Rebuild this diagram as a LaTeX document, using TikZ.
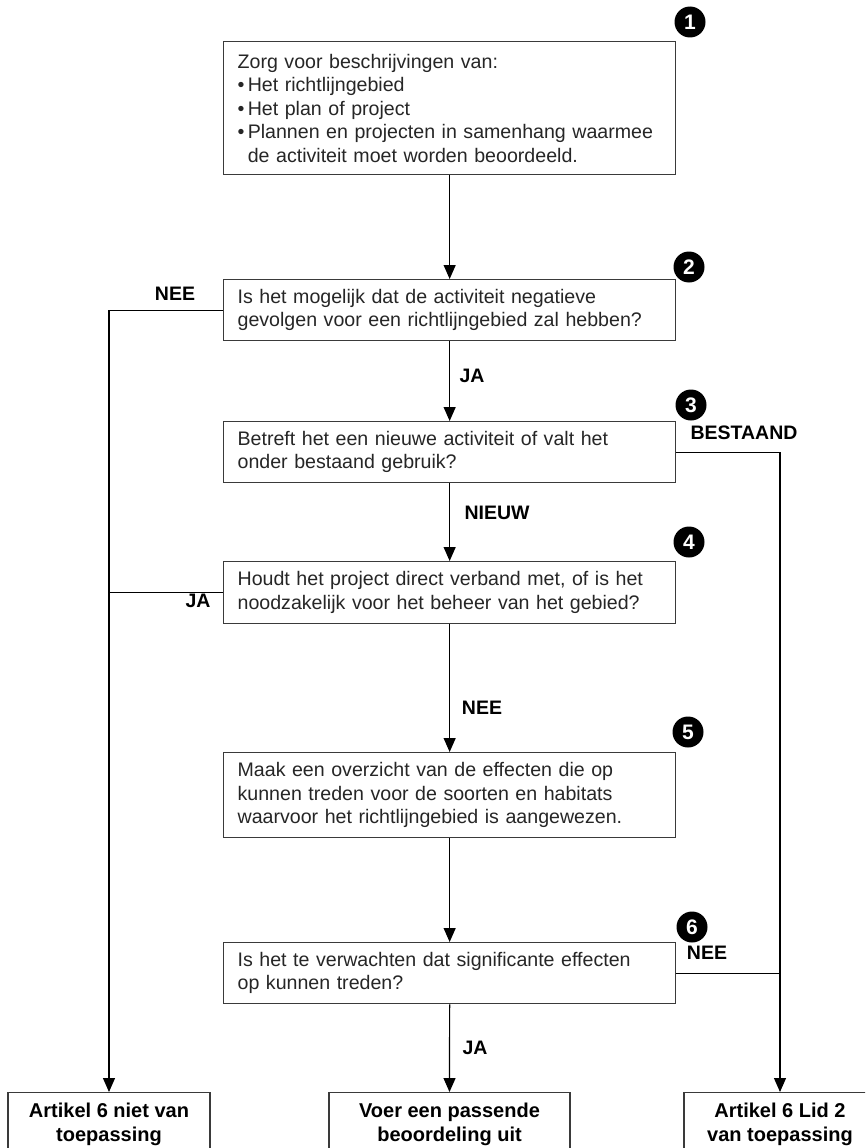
\documentclass[tikz,border=0pt]{standalone}
\usepackage{fontspec}
\setmainfont{Liberation Sans}
\usetikzlibrary{arrows.meta}
\definecolor{boxline}{HTML}{3A3A3A}
\definecolor{bodytext}{HTML}{262626}
\tikzset{
  qbox/.style={draw=boxline, line width=1.3pt, rectangle, anchor=north west,
    minimum width=452pt, text width=424pt, inner xsep=14pt, inner ysep=3pt,
    align=left, text=bodytext, font=\fontsize{19.6}{23.5}\selectfont},
  endbox/.style={draw=boxline, line width=1.3pt, rectangle, anchor=north,
    minimum height=64pt, inner sep=2pt, align=center,
    font=\fontsize{20}{24}\selectfont\bfseries},
  marker/.style={circle, fill=black, text=white, minimum size=31pt, inner sep=0pt,
    font=\fontsize{21}{21}\selectfont\bfseries},
  lbl/.style={font=\fontsize{19.5}{20}\selectfont\bfseries, inner sep=0pt},
  conn/.style={line width=1.2pt, draw=black},
  arr/.style={conn, -{Triangle[length=14pt,width=12pt]}}
}
\begin{document}
\begin{tikzpicture}[x=1pt,y=-1pt]
\useasboundingbox (0,0) rectangle (865,1148);
\clip (0,0) rectangle (865,1148);
\fill[white] (0,0) rectangle (865,1148);

% boxes
\node[qbox, minimum height=133pt] (b1) at (223,41)
  {Zorg voor beschrijvingen van:\\
   •\,Het richtlijngebied\\
   •\,Het plan of project\\
   •\,Plannen en projecten in samenhang waarmee\\
   \phantom{•\,}de activiteit moet worden beoordeeld.};
\node[qbox, minimum height=61pt] (b2) at (223,279)
  {Is het mogelijk dat de activiteit negatieve\\gevolgen voor een richtlijngebied zal hebben?};
\node[qbox, minimum height=61pt] (b3) at (223,421)
  {Betreft het een nieuwe activiteit of valt het\\onder bestaand gebruik?};
\node[qbox, minimum height=62pt] (b4) at (223,561)
  {Houdt het project direct verband met, of is het\\noodzakelijk voor het beheer van het gebied?};
\node[qbox, minimum height=85pt] (b5) at (223,752)
  {Maak een overzicht van de effecten die op\\kunnen treden voor de soorten en habitats\\waarvoor het richtlijngebied is aangewezen.};
\node[qbox, minimum height=61pt] (b6) at (223,942)
  {Is het te verwachten dat significante effecten\\op kunnen treden?};

\node[endbox, minimum width=202pt] (bl) at (109,1092) {Artikel 6 niet van\\toepassing};
\node[endbox, minimum width=241pt] (bm) at (449.5,1092) {Voer een passende\\beoordeling uit};
\node[endbox, minimum width=192pt] (br) at (780,1092) {Artikel 6 Lid 2\\van toepassing};

% markers
\node[marker] (m1) at (690,22) {1};
\node[marker] (m2) at (689,267) {2};
\node[marker] (m3) at (691,405) {3};
\node[marker] (m4) at (689,542) {4};
\node[marker] (m5) at (688,732) {5};
\node[marker] (m6) at (692,927) {6};

% connectors
\draw[arr] (b1.south) -- (b2.north);
\draw[arr] (b2.west) -| (bl.north);
\draw[arr] (b2.south) -- (b3.north);
\draw[arr] (b3.east) -| (br.north);
\draw[arr] (b3.south) -- (b4.north);
\draw[conn] (b4.west) -- (b4.west -| bl.north);
\draw[arr] (b4.south) -- (b5.north);
\draw[arr] (b5.south) -- (b6.north);
\draw[conn] (b6.east) -- (b6.east -| br.north);
\draw[arr] (b6.south) -- (bm.north);

% labels
\node[lbl] (l1) at (175,294) {NEE};
\node[lbl] (l2) at (472,376) {JA};
\node[lbl] (l3) at (744,433) {BESTAAND};
\node[lbl] (l4) at (497,513) {NIEUW};
\node[lbl] (l5) at (198,601) {JA};
\node[lbl] (l6) at (482,708) {NEE};
\node[lbl] (l7) at (707,953) {NEE};
\node[lbl] (l8) at (475,1048) {JA};
\end{tikzpicture}
\end{document}
